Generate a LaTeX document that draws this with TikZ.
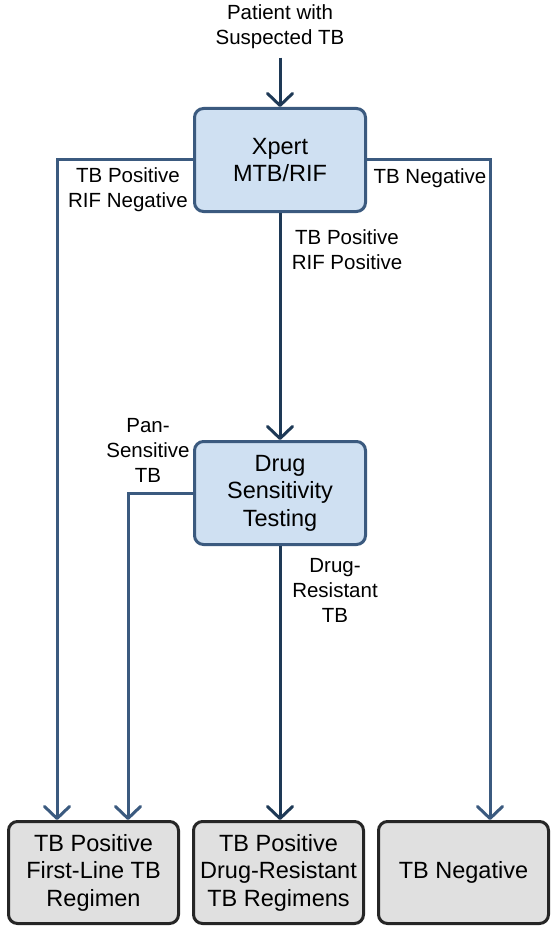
\documentclass[tikz,border=0pt]{standalone}
\usepackage{fontspec}
\setmainfont{Liberation Sans}
\usetikzlibrary{arrows.meta}
\definecolor{flowblue}{HTML}{3B5A7F}
\definecolor{flowdark}{HTML}{1E3956}
\definecolor{boxblue}{HTML}{CFE0F2}
\definecolor{boxgrey}{HTML}{E0E0E0}
\tikzset{
	testbox/.style={draw=flowblue, fill=boxblue, line width=3pt, rounded corners=9pt, minimum width=171pt, minimum height=103pt, align=center, font=\fontsize{23.5}{27.5}\selectfont},
	resultbox/.style={draw=black!85, fill=boxgrey, line width=3pt, rounded corners=9pt, minimum width=170pt, minimum height=102pt, align=center, font=\fontsize{23.5}{27.5}\selectfont},
	lbl/.style={align=center, font=\fontsize{20.5}{25}\selectfont},
	flow/.style={draw=flowblue, line width=3pt, -{Straight Barb[length=12pt,width=25pt,round]}},
	mainflow/.style={flow, draw=flowdark}
}

\begin{document}
\begin{tikzpicture}[x=1pt,y=-1pt]
	\useasboundingbox (0,0) rectangle (553,928);
	\node[lbl] (patient) at (280,27) {Patient with\\Suspected TB};
	\node[testbox] (xpert) at (280,160) {Xpert\\MTB/RIF};
	\node[testbox] (dst) at (280,493) {Drug\\Sensitivity\\Testing};
	\node[resultbox] (firstline) at (93.5,872.5) {TB Positive\\First-Line TB\\Regimen};
	\node[resultbox] (resistant) at (278.5,872.5) {TB Positive\\Drug-Resistant\\TB Regimens};
	\node[resultbox] (negative) at (463.5,872.5) {TB Negative};

	\node[lbl] (rifneg) at (128,190) {TB Positive\\RIF Negative};
	\node[lbl] (tbneg) at (430,178) {TB Negative};
	\node[lbl] (rifpos) at (347,250) {TB Positive\\RIF Positive};
	\node[lbl] (pansens) at (148,450) {Pan-\\Sensitive\\TB};
	\node[lbl] (drugres) at (335,590) {Drug-\\Resistant\\TB};

	\draw[mainflow, shorten <=5pt] (patient) -- (xpert);
	\draw[flow] (xpert.west) -| ([xshift=-36.5pt]firstline.north);
	\draw[flow] (xpert.east) -| ([xshift=26.5pt]negative.north);
	\draw[mainflow] (xpert) -- (dst);
	\draw[flow] (dst.west) -| ([xshift=34.5pt]firstline.north);
	\draw[mainflow] (dst) -- ([xshift=1.5pt]resistant.north);
\end{tikzpicture}
\end{document}
